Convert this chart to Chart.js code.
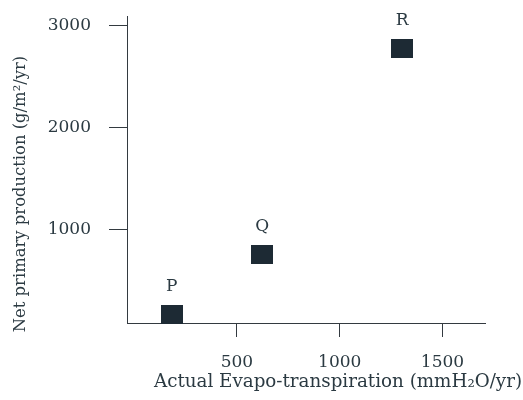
<!DOCTYPE html>
<html>
<head>
<meta charset="utf-8">
<script src="https://cdn.jsdelivr.net/npm/chart.js@4"></script>
<style>
    html, body { margin: 0; padding: 0; background: #fff; }
</style>
</head>
<body>
<canvas id="chart" width="523" height="400"></canvas>
<script>
// Sitios y valores
const siteNames = ['P', 'Q', 'R'];
const evapoValues = [183, 623, 1304];        // mm H2O / año
const productionValues = [160, 750, 2770];   // g/m2/año
const xTickValues = [500, 1000, 1500];
const yTickValues = [1000, 2000, 3000];

const xTitle = 'Actual Evapo-transpiration (mmH\u2082O/yr)';
const yTitle = 'Net primary production (g/m\u00b2/yr)';

const textColor = '#2b3a42';
const axisColor = '#333a40';
const markColor = '#1d2a34';
const fontFamily = '"DejaVu Serif", serif';

// Cuadrado (un poco más ancho que alto) como estilo de punto
function makeSquare(w, h, color) {
    const c = document.createElement('canvas');
    c.width = w;
    c.height = h;
    const g = c.getContext('2d');
    g.fillStyle = color;
    g.fillRect(0, 0, w, h);
    return c;
}

// Letras encima de cada punto
const pointLabels = {
    id: 'pointLabels',
    afterDatasetsDraw(chart) {
        const ctx = chart.ctx;
        const meta = chart.getDatasetMeta(0);
        ctx.save();
        ctx.fillStyle = textColor;
        ctx.font = '17px ' + fontFamily;
        ctx.textAlign = 'center';
        ctx.textBaseline = 'middle';
        meta.data.forEach((pt, i) => {
            ctx.fillText(siteNames[i], pt.x, pt.y - 28);
        });
        ctx.restore();
    }
};

// Títulos de los ejes
const axisTitles = {
    id: 'axisTitles',
    afterDraw(chart) {
        const ctx = chart.ctx;
        ctx.save();
        ctx.fillStyle = textColor;
        ctx.textAlign = 'center';
        ctx.textBaseline = 'middle';
        ctx.font = '18.3px ' + fontFamily;
        ctx.fillText(xTitle, 338, 382);
        ctx.translate(21, 194);
        ctx.rotate(-Math.PI / 2);
        ctx.font = '16.4px ' + fontFamily;
        ctx.fillText(yTitle, 0, 0);
        ctx.restore();
    }
};

const ctx = document.getElementById('chart').getContext('2d');
new Chart(ctx, {
    type: 'scatter',
    data: {
        datasets: [{
            data: evapoValues.map((x, i) => ({ x: x, y: productionValues[i] })),
            pointStyle: makeSquare(22, 19, markColor),
            clip: false,
        }],
    },
    options: {
        responsive: false,
        animation: false,
        layout: { padding: { top: 16, right: 38, left: 0, bottom: 0 } },
        plugins: {
            legend: { display: false },
            tooltip: { enabled: false },
        },
        scales: {
            x: {
                type: 'linear',
                min: -35,
                max: 1707,
                afterBuildTicks: s => { s.ticks = xTickValues.map(v => ({ value: v })); },
                afterFit: s => { s.height = 77; s.paddingLeft = 0; s.paddingRight = 0; },
                grid: { display: true, drawOnChartArea: false, drawTicks: true, tickLength: 14, color: axisColor },
                border: { display: true, color: axisColor, width: 1 },
                ticks: {
                    color: textColor,
                    font: { family: fontFamily, size: 17 },
                    padding: 15,
                    maxRotation: 0,
                    callback: v => String(v),
                },
            },
            y: {
                type: 'linear',
                min: 80,
                max: 3090,
                afterBuildTicks: s => { s.ticks = yTickValues.map(v => ({ value: v })); },
                afterFit: s => { s.width = 127; s.paddingTop = 0; s.paddingBottom = 0; },
                grid: { display: true, drawOnChartArea: false, drawTicks: true, tickLength: 18, color: axisColor },
                border: { display: true, color: axisColor, width: 1 },
                ticks: {
                    color: textColor,
                    font: { family: fontFamily, size: 17 },
                    padding: 18,
                    callback: v => String(v),
                },
            },
        },
    },
    plugins: [pointLabels, axisTitles],
});
</script>
</body>
</html>
